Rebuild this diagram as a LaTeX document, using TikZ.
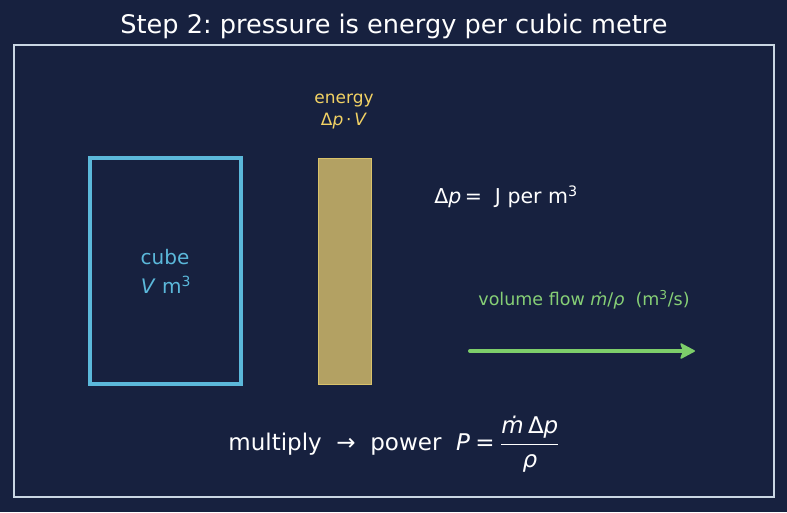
\documentclass[tikz,border=0pt]{standalone}
\usepackage{fontspec}
\usepackage{amsmath}
\setmainfont{DejaVu Sans}
\usetikzlibrary{arrows.meta}
\definecolor{bg}{HTML}{17213F}
\definecolor{framec}{HTML}{C9D6E3}
\definecolor{cubec}{HTML}{5BB8DA}
\definecolor{barfill}{HTML}{B3A163}
\definecolor{barline}{HTML}{D9C26A}
\definecolor{energyc}{HTML}{F2D264}
\definecolor{flowtext}{HTML}{86CF76}
\definecolor{flowline}{HTML}{7DCE6A}
\newcommand{\fs}[1]{\fontsize{#1}{#1}\selectfont}
\frenchspacing
\begin{document}
\begin{tikzpicture}[x=1pt,y=-1pt,
  lbl/.style={inner sep=0pt, anchor=center},
]
\fill[bg] (0,0) rectangle (787,512);
\useasboundingbox (0,0) rectangle (787,512);
\node[lbl, text=white, font=\fs{25.6}] (title) at (394,26) {Step 2: pressure is energy per cubic metre};
\node[draw=framec, line width=1.5pt, minimum width=760pt, minimum height=452pt, inner sep=0pt] (frame) at (394,271) {};
\node[draw=cubec, line width=3.5pt, minimum width=151pt, minimum height=226pt, inner sep=0pt] (cube) at (165.5,271) {};
\node[lbl, text=cubec, font=\fs{20}] (cubelbl) at (165,257) {cube};
\node[lbl, text=cubec, font=\fs{20}] (cubevol) at (166,285) {\textit{V} m\textsuperscript{3}};
\node[draw=barline, fill=barfill, line width=1pt, minimum width=53pt, minimum height=226pt, inner sep=0pt] (bar) at (344.5,271) {};
\node[lbl, text=energyc, font=\fs{17}] (energylbl) at (344,101) {energy};
\node[lbl, text=energyc, font=\fs{17}] (energyexpr) at (344,121) {Δ\textit{p}\,·\,\textit{V}};
\node[lbl, text=white, font=\fs{20.5}] (dp) at (506,197) {Δ\textit{p}\,=\ \ J per m\textsuperscript{3}};
\node[lbl, text=flowtext, font=\fs{17.5}] (flowlbl) at (584,300) {volume flow \textit{ṁ}/\textit{ρ}\ \ (m\textsuperscript{3}/s)};
\coordinate (flowstart) at (470,351);
\coordinate (flowend) at (695,351);
\draw[flowline, line width=4pt, line cap=round, -{Stealth[length=16pt, width=17pt, inset=3pt, line width=1.5pt, round]}] (flowstart) -- (flowend);
\node[lbl, text=white, font=\fs{23}] (power) at (394,444) {multiply\ \ →\ \ power\ \ $\textit{P}\mskip\medmuskip\text{=}\mskip\medmuskip\dfrac{\textit{ṁ}\,\text{Δ}\textit{p}}{\textit{ρ}}$};
\end{tikzpicture}
\end{document}
